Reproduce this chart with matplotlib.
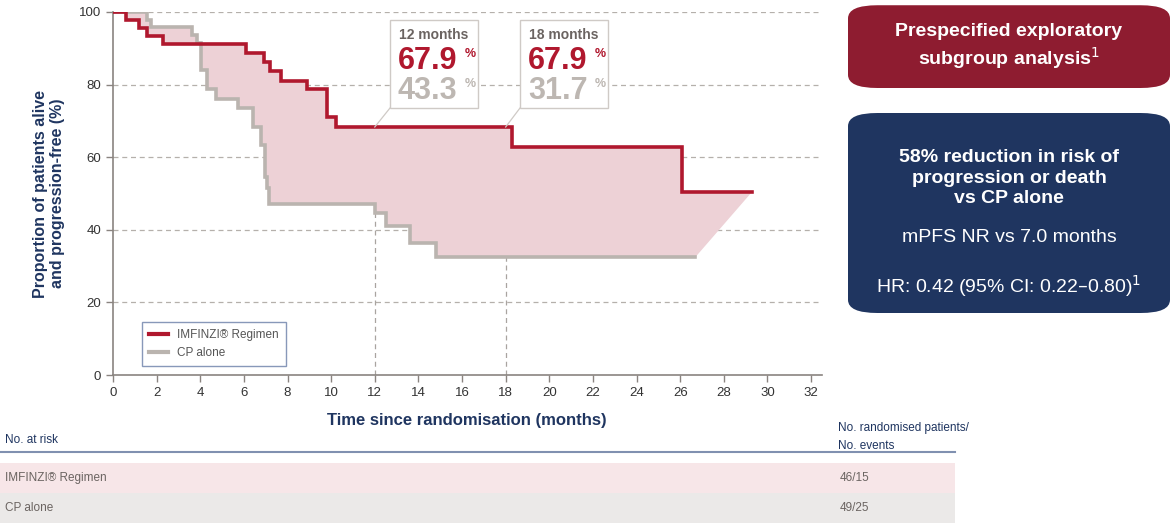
import matplotlib
matplotlib.use("Agg")
import matplotlib.pyplot as plt
from matplotlib import font_manager as fm
from matplotlib.patches import FancyBboxPatch, Rectangle, Polygon
import matplotlib.transforms as mtrans

names = {f.name for f in fm.fontManager.ttflist}
COND = "Liberation Sans Narrow" if "Liberation Sans Narrow" in names else "Liberation Sans"
plt.rcParams['font.family'] = ['Liberation Sans', 'DejaVu Sans']

# ---- data ----
imf_t = [0, 0.6, 1.2, 1.55, 2.3, 6.1, 6.9, 7.2, 7.7, 8.9, 9.8, 10.2, 18.3, 26.1, 29.3]
imf_s = [100, 97.8, 95.7, 93.5, 91.3, 88.7, 86.3, 83.8, 81.1, 78.7, 71.1, 68.3, 62.8, 50.5, 50.5]
cp_t = [0, 1.55, 1.75, 3.6, 3.85, 4.05, 4.3, 4.7, 5.75, 6.4, 6.8, 6.95, 7.05, 7.15, 12.0, 12.5, 13.6, 14.8, 26.7]
cp_s = [100, 97.9, 95.9, 93.8, 91.5, 84.0, 78.8, 76.0, 73.5, 68.4, 63.4, 54.6, 51.4, 47.1, 44.6, 41.0, 36.5, 32.5, 32.5]
risk_months = list(range(0, 33))
risk_imf = [46,42,40,37,37,36,36,34,32,31,27,26,26,19,19,19,17,17,14,11,11,9,9,7,5,5,5,2,2,1,0,0,0]
risk_cp = [49,45,43,41,39,29,28,19,17,17,16,15,13,10,9,8,7,7,5,4,4,2,2,2,2,2,2,0,0,0,0,0,0]
totals = ["46/15", "49/25"]
ann_months = [12, 18]
ann_imf = ["67.9", "67.9"]
ann_cp = ["43.3", "31.7"]

RED = "#b0182e"; GRAY = "#bab4af"; FILL = "#edd1d6"; NAVY = "#1f3560"; TXT = "#6b6461"

W, H = 1176, 524
fig = plt.figure(figsize=(W/100, H/100), dpi=100)
def fx(px): return px / W
def fy(py): return 1 - py / H

ax = fig.add_axes([fx(113), fy(375), fx(822) - fx(113), fy(12) - fy(375)])
ax.set_xlim(0, 32.5); ax.set_ylim(0, 100)

def steps(t, s):
    xs, ys = [t[0]], [s[0]]
    for i in range(1, len(t)):
        xs += [t[i], t[i]]; ys += [s[i-1], s[i]]
    return xs, ys
rx, ry = steps(imf_t, imf_s)
gx, gy = steps(cp_t, cp_s)
poly = list(zip(rx, ry)) + list(zip(gx, gy))[::-1]
ax.add_patch(Polygon(poly, closed=True, facecolor=FILL, edgecolor='none', zorder=1))

for yv in [20, 40, 60, 80, 100]:
    ax.axhline(yv, color="#b5b0ab", ls=(0, (4, 3)), lw=0.9, zorder=0)
for m in ann_months:
    ax.plot([m, m], [0, 68], color="#a9a4a0", ls=(0, (4, 3)), lw=0.9, zorder=0)

ax.plot(gx, gy, color=GRAY, lw=2.6, zorder=2, solid_joinstyle='miter')
ax.plot(rx, ry, color=RED, lw=2.6, zorder=3, solid_joinstyle='miter')

ax.set_xticks(range(0, 33, 2)); ax.set_yticks(range(0, 101, 20))
ax.tick_params(colors="#8a8480", labelcolor="#333", labelsize=9.5, length=5, width=1)
for s in ['top', 'right']: ax.spines[s].set_visible(False)
for s in ['left', 'bottom']:
    ax.spines[s].set_color("#8a8480"); ax.spines[s].set_linewidth(1.2)
ax.set_ylabel("Proportion of patients alive\nand progression-free (%)", color=NAVY,
              fontsize=11.5, fontweight='bold', labelpad=10)
fig.text(fx(467), fy(421), "Time since randomisation (months)", color=NAVY, fontsize=12,
         fontweight='bold', ha='center', va='center')

# legend
leg = ax.legend(handles=[plt.Line2D([], [], color=RED, lw=3), plt.Line2D([], [], color=GRAY, lw=3)],
                labels=["IMFINZI® Regimen", "CP alone"], loc='upper left',
                bbox_to_anchor=(fx(136 - 113) / (fx(822) - fx(113)), (375 - 316) / 363),
                fontsize=8.5, frameon=True, fancybox=False, edgecolor="#6a7fa8", handlelength=1.6,
                labelcolor="#555", borderpad=0.6)
for t in leg.get_texts(): t.set_fontfamily(COND)

# callouts
for m, a, b, bx in zip(ann_months, ann_imf, ann_cp, [390, 520]):
    fig.patches.append(Rectangle((fx(bx), fy(108)), fx(88), fy(20) - fy(108), transform=fig.transFigure,
                                 facecolor='white', edgecolor="#cfcac6", lw=1))
    fig.text(fx(bx + 44), fy(35), f"{m} months", ha='center', va='center', color=TXT, fontsize=10, fontweight='bold')
    fig.text(fx(bx + 8), fy(61), a, ha='left', va='center', color=RED, fontsize=22, fontweight='bold')
    fig.text(fx(bx + 80), fy(54), "%", ha='center', va='center', color=RED, fontsize=9, fontweight='bold')
    fig.text(fx(bx + 8), fy(91), b, ha='left', va='center', color="#bdb7b2", fontsize=22, fontweight='bold')
    fig.text(fx(bx + 80), fy(84), "%", ha='center', va='center', color="#bdb7b2", fontsize=9, fontweight='bold')
    px = 113 + m * 709 / 32.5
    fig.add_artist(plt.Line2D([fx(px), fx(bx)], [fy(127), fy(108)], color="#cfcac6", lw=0.9))

# right panels
fig.patches.append(FancyBboxPatch((fx(848), fy(88)), fx(322), fy(0) - fy(88) - 0.01, transform=fig.transFigure,
                                  boxstyle="round,pad=0,rounding_size=0.025", facecolor="#8e1c30", edgecolor='none'))
fig.text(fx(1009), fy(47), "Prespecified exploratory\nsubgroup analysis$^1$", ha='center', va='center',
         color='white', fontsize=14, fontweight='bold', linespacing=1.25)
fig.patches.append(FancyBboxPatch((fx(848), fy(313)), fx(322), fy(113) - fy(313), transform=fig.transFigure,
                                  boxstyle="round,pad=0,rounding_size=0.025", facecolor=NAVY, edgecolor='none'))
fig.text(fx(1009), fy(178), "58% reduction in risk of\nprogression or death\nvs CP alone", ha='center', va='center',
         color='white', fontsize=14, fontweight='bold', linespacing=1.3)
fig.text(fx(1009), fy(237), "mPFS NR vs 7.0 months", ha='center', va='center', color='white', fontsize=14)
fig.text(fx(1009), fy(286), "HR: 0.42 (95% CI: 0.22–0.80)$^1$", ha='center', va='center', color='white', fontsize=14)

# risk table
fig.text(fx(5), fy(440), "No. at risk", color=NAVY, fontsize=8.5, va='center', family=COND)
fig.text(fx(838), fy(437), "No. randomised patients/\nNo. events", color=NAVY, fontsize=8.5, va='center',
         family=COND, linespacing=1.6)
fig.add_artist(plt.Line2D([0, fx(955)], [fy(452), fy(452)], color="#8090b0", lw=1.5))
fig.patches.append(Rectangle((0, fy(493)), fx(955), fy(463) - fy(493), transform=fig.transFigure, facecolor="#f7e6e8", edgecolor='none'))
fig.patches.append(Rectangle((0, fy(523)), fx(955), fy(493) - fy(523), transform=fig.transFigure, facecolor="#ebe9e8", edgecolor='none'))
tr = mtrans.blended_transform_factory(ax.transData, fig.transFigure)
for lab, vals, tot, py in [("IMFINZI® Regimen", risk_imf, totals[0], 478), ("CP alone", risk_cp, totals[1], 508)]:
    fig.text(fx(5), fy(py), lab, color=TXT, fontsize=8.5, va='center', family=COND)
    for m, v in zip(risk_months, vals):
        ax.text(m, fy(py), str(v), transform=tr, ha='center', va='center', color=TXT, fontsize=8.5,
                family=COND, clip_on=False)
    fig.text(fx(840), fy(py), tot, color=TXT, fontsize=8.5, va='center', family=COND)

fig.savefig("out.png", dpi=100)
